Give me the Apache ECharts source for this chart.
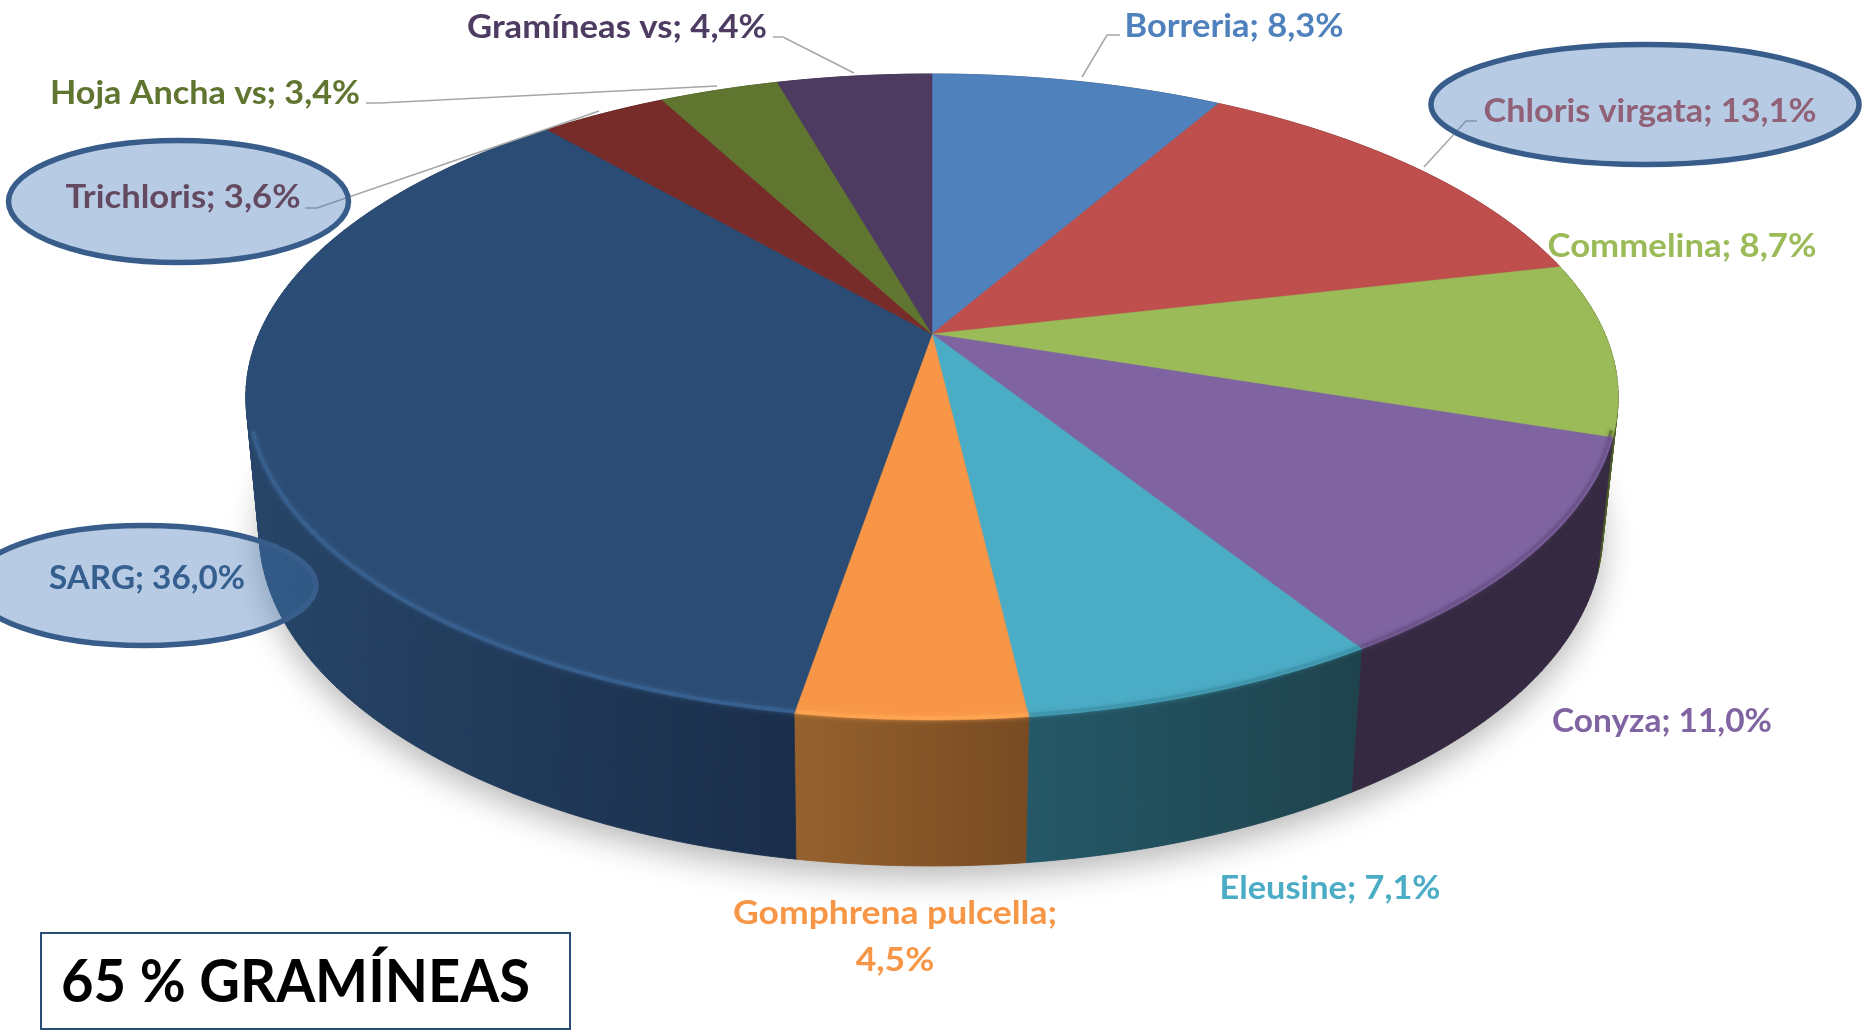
<!DOCTYPE html>
<html>
<head>
<meta charset="utf-8">
<title>65 % GRAMÍNEAS</title>
<style>html,body{margin:0;padding:0;background:#fff}#chart{width:1865px;height:1031px}</style>
<script src="https://cdn.jsdelivr.net/npm/echarts@6/dist/echarts.min.js"></script>
</head>
<body>
<div id="chart"></div>
<script>
// ---- data ----
const categories = ['Borreria','Chloris virgata','Commelina','Conyza','Eleusine','Gomphrena pulcella','SARG','Trichloris','Hoja Ancha vs','Gramíneas vs'];
const shares = [8.3,13.1,8.7,11.0,7.1,4.5,36.0,3.6,3.4,4.4];
const boxTitle = '65 % GRAMÍNEAS';

// ---- styles ----
const topColors  = ['#4F81BD','#BE4F4C','#9BBB59','#8064A2','#4BACC6','#F79646','#2B4C74','#772C2A','#5F7530','#4D3B62'];
const rimColors  = ['#4F81BD','#BE4F4C','#5F7430','#6A5288','#3F93AA','#FFA653','#3A6392','#772C2A','#5F7530','#4D3B62'];
const wallLeft   = ['#2F4D71','#73302E','#4C5C26','#352942','#245868','#96612D','#264568','#47201F','#39461D','#2E233B'];
const wallRight  = ['#2F4D71','#73302E','#4C5C26','#352942','#1E434D','#794B22','#1A2E4B','#47201F','#39461D','#2E233B'];
const labelColors= ['#4F81BD','#C0504D','#9BBB59','#8064A2','#4BACC6','#F79646','#2C4D75','#772C2A','#5F7530','#4D3B62'];

// ---- layout of the perspective disc ----
const persp = 0.195;
const topDisc = {x:932, y:334, a:310.7, b:673};
const botDisc = {x:931, y:466, a:322,   b:659};
function project(d, turn){
  const t = turn*2*Math.PI, u = Math.sin(t), v = -Math.cos(t), w = 1 - persp*v;
  return [d.x + d.b*u/w, d.y + d.a*v/w];
}
const total = shares.reduce((s,v)=>s+v,0);
function arc(d, from, to){
  const n = Math.max(8, Math.ceil((to-from)*400)), pts = [];
  for(let i=0;i<=n;i++) pts.push(project(d, from+(to-from)*i/n));
  return pts;
}
function span(i){
  let s = 0; for(let k=0;k<i;k++) s += shares[k];
  return [s/total, (s+shares[i])/total];
}
const seriesData = shares.map((v,i)=>({name:categories[i], value:[i,v]}));

function renderWall(params, api){
  const i = api.value(0), [a,b] = span(i);
  const t = arc(topDisc,a,b), bt = arc(botDisc,a,b);
  const xs = t.concat(bt).map(p=>p[0]), x0 = Math.min(...xs), x1 = Math.max(...xs);
  const mk = () => new echarts.graphic.LinearGradient(x0,0,x1,0,[{offset:0,color:wallLeft[i]},{offset:1,color:wallRight[i]}],true);
  const children = [];
  for(let k=0;k<t.length-1;k++){
    children.push({type:'polygon', shape:{points:[t[k],t[k+1],bt[k+1],bt[k]]},
      style:{fill:mk(), stroke:mk(), lineWidth:0.8}});
  }
  return {type:'group', children};
}
function renderTop(params, api){
  const i = api.value(0), [a,b] = span(i);
  const outer = arc(topDisc,a,b);
  const children = [{type:'polygon', shape:{points:[[topDisc.x,topDisc.y]].concat(outer)},
    style:{fill:topColors[i], stroke:topColors[i], lineWidth:0.6}}];
  const front = outer.filter(p=>p[1] > topDisc.y + 95);
  if(front.length>1){
    const inset = front.map(p=>[topDisc.x+(p[0]-topDisc.x)*0.996, p[1]-2]);
    children.push({type:'polyline', shape:{points:inset},
      style:{fill:'none', stroke:rimColors[i], lineWidth:3.5, shadowBlur:5, shadowColor:rimColors[i], opacity:.8}});
  }
  return {type:'group', children};
}
function renderShadow(params, api){
  return {type:'polygon', shape:{points:arc(botDisc,0,1)},
    style:{fill:'#777', shadowBlur:32, shadowOffsetY:12, shadowColor:'rgba(0,0,0,0.28)'}};
}

// ---- label layout (centre x, centre y, target width) ----
const labelLayout = [
  [1234,26,219],[1650,111,333],[1682,246,269],[1662,721,220],[1330,888,221],
  [895,937,324],[147,578,196],[183,197,235],[205,93,310],[617,27,300]
];
const leaderLines = [
  [[1120,35],[1107,35],[1082,77]],
  [[1477,121],[1466,121],[1424,167]],
  [[773,37],[783,37],[854,73]],
  [[366,103],[380,103],[717,86]],
  [[305,208],[317,208],[599,111]]
];
const callouts = [[1645,104.5,214,60],[178.5,201.5,170,61],[144,585.5,172,60]];

const measure = document.createElement('canvas').getContext('2d');
function fitScale(text, font, width){
  measure.font = font;
  const longest = Math.max(...text.split('\n').map(l=>measure.measureText(l).width));
  return width/longest;
}
function labelText(i){
  const s = categories[i] + '; ' + shares[i].toFixed(1).replace('.',',') + '%';
  return i===5 ? s.replace('; ',';\n') : s;
}
const FONT = 'Lato, "Noto Sans", sans-serif';
const elements = [];
labelLayout.forEach((l,i)=>{
  const text = labelText(i);
  elements.push({type:'text', x:l[0], y:l[1], z:10, silent:true,
    scaleX: fitScale(text,'700 33px '+FONT,l[2]),
    style:{text, fill:labelColors[i], font:'700 33px '+FONT, align:'center', verticalAlign:'middle', lineHeight:47}});
});
leaderLines.forEach(p=>elements.push({type:'polyline', z:10, silent:true, shape:{points:p},
  style:{fill:'none', stroke:'#A6A6A6', lineWidth:1.5}}));
callouts.forEach(c=>elements.push({type:'ellipse', z:11, silent:true,
  shape:{cx:c[0], cy:c[1], rx:c[2], ry:c[3]},
  style:{fill:'rgba(70,124,186,0.39)', stroke:'#385D8A', lineWidth:5.5}}));
elements.push({type:'rect', z:10, silent:true, shape:{x:41,y:933,width:529,height:96},
  style:{fill:'#fff', stroke:'#2C4D75', lineWidth:2}});
elements.push({type:'text', x:61, y:983, z:12, silent:true,
  scaleX: fitScale(boxTitle,'700 60px '+FONT,469),
  style:{text:boxTitle, fill:'#000', font:'700 60px '+FONT, align:'left', verticalAlign:'middle'}});

const chart = echarts.init(document.getElementById('chart'), null, {renderer:'canvas', width:1865, height:1031});
chart.setOption({
  animation:false,
  backgroundColor:'#fff',
  series:[
    {type:'custom', name:'shadow', coordinateSystem:'none', silent:true, z:1, renderItem:renderShadow, data:[[0]]},
    {type:'custom', name:'wall', coordinateSystem:'none', silent:true, z:2, renderItem:renderWall, data:seriesData},
    {type:'custom', name:'top', coordinateSystem:'none', silent:true, z:3, renderItem:renderTop, data:seriesData}
  ],
  graphic:{elements}
});
</script>
</body>
</html>
